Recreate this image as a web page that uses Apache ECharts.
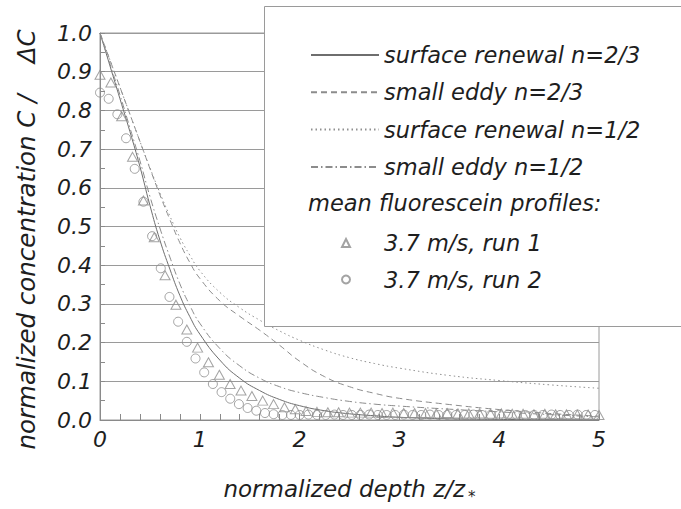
<!DOCTYPE html>
<html>
<head>
<meta charset="utf-8">
<script src="https://cdn.jsdelivr.net/npm/echarts@6/dist/echarts.min.js"></script>
<style>html,body{margin:0;padding:0;background:#fff}#c{width:681px;height:509px}</style>
</head>
<body>
<div id="c"></div>
<script>
// ---- data ----
const curveZ = [0, 0.1, 0.2, 0.3, 0.4, 0.5, 0.6, 0.7, 0.8, 0.9, 1.0, 1.2, 1.4, 1.6, 1.8, 2.0, 2.25, 2.5, 2.75, 3.0, 3.5, 4.0, 4.5, 5.0];
const surfaceRenewal23 = [1.0, 0.915, 0.83, 0.745, 0.655, 0.555, 0.465, 0.39, 0.322, 0.267, 0.222, 0.155, 0.108, 0.076, 0.053, 0.037, 0.024, 0.016, 0.011, 0.007, 0.003, 0.0015, 0.0007, 0.0003];
const smallEddy23 = [1.0, 0.93, 0.86, 0.79, 0.72, 0.65, 0.582, 0.518, 0.458, 0.407, 0.366, 0.308, 0.268, 0.232, 0.193, 0.152, 0.112, 0.086, 0.069, 0.056, 0.04, 0.027, 0.017, 0.01];
const surfaceRenewal12 = [1.0, 0.93, 0.86, 0.79, 0.72, 0.652, 0.587, 0.527, 0.472, 0.426, 0.386, 0.33, 0.29, 0.258, 0.23, 0.206, 0.181, 0.161, 0.146, 0.134, 0.115, 0.102, 0.091, 0.082];
const smallEddy12 = [1.0, 0.92, 0.84, 0.755, 0.67, 0.578, 0.496, 0.421, 0.352, 0.296, 0.25, 0.185, 0.14, 0.108, 0.086, 0.071, 0.058, 0.048, 0.041, 0.036, 0.028, 0.021, 0.014, 0.008];

const run1Z = [0, 0.109, 0.217, 0.326, 0.435, 0.543, 0.652, 0.761, 0.870, 0.978, 1.087, 1.196, 1.304, 1.413, 1.522, 1.630, 1.739, 1.848, 1.957, 2.065, 2.174, 2.283, 2.391, 2.5, 2.609, 2.717, 2.826, 2.935, 3.043, 3.152, 3.261, 3.370, 3.478, 3.587, 3.696, 3.804, 3.913, 4.022, 4.130, 4.239, 4.348, 4.457, 4.565, 4.674, 4.783, 4.891, 5.0];
const run1Y = [0.892, 0.872, 0.785, 0.68, 0.567, 0.472, 0.374, 0.298, 0.234, 0.187, 0.149, 0.117, 0.093, 0.076, 0.062, 0.05, 0.041, 0.033, 0.028, 0.023, 0.021, 0.02,
  0.02, 0.019, 0.019, 0.019, 0.018, 0.019, 0.018, 0.018, 0.018, 0.017, 0.018, 0.017, 0.017, 0.017, 0.016, 0.017, 0.016, 0.016, 0.015, 0.016, 0.015, 0.015, 0.014, 0.014, 0.013];

const run2Z = [0, 0.087, 0.174, 0.261, 0.348, 0.435, 0.522, 0.609, 0.696, 0.783, 0.87, 0.957, 1.044, 1.131, 1.218, 1.305, 1.392, 1.479, 1.566, 1.653, 1.74, 1.827, 1.914, 2.001, 2.088, 2.175, 2.262, 2.349, 2.436, 2.523, 2.61, 2.697, 2.784, 2.871, 2.958, 3.045, 3.132, 3.219, 3.306, 3.393, 3.48, 3.567, 3.654, 3.741, 3.828, 3.915, 4.002, 4.089, 4.176, 4.263, 4.35, 4.437, 4.524, 4.611, 4.698, 4.785, 4.872, 4.959];
const run2Y = [0.846, 0.83, 0.79, 0.728, 0.649, 0.564, 0.475, 0.392, 0.318, 0.254, 0.202, 0.159, 0.123, 0.093, 0.072, 0.055, 0.041, 0.031, 0.024, 0.018,
  0.015, 0.013, 0.013, 0.013, 0.014, 0.013, 0.013, 0.014, 0.013, 0.013, 0.013, 0.014, 0.013, 0.013, 0.013, 0.014, 0.013, 0.013, 0.014, 0.013,
  0.013, 0.013, 0.013, 0.014, 0.013, 0.013, 0.013, 0.014, 0.013, 0.013, 0.013, 0.013, 0.014, 0.013, 0.013, 0.014, 0.013, 0.013];

const yTicks = ['0.0','0.1','0.2','0.3','0.4','0.5','0.6','0.7','0.8','0.9','1.0'];
const xTicks = ['0','1','2','3','4','5'];
const lineNames = ['surface renewal n=2/3', 'small eddy n=2/3', 'surface renewal n=1/2', 'small eddy n=1/2'];
const markerNames = ['3.7 m/s, run 1', '3.7 m/s, run 2'];
const legendHeader = 'mean fluorescein profiles:';

// ---- chart ----
const FONT = 'DejaVu Sans';
const TXT = '#1e1e1e';
const pair = (xs, ys) => xs.map((x, i) => [x, ys[i]]);

const chart = echarts.init(document.getElementById('c'), null, {renderer: 'svg', width: 681, height: 509});

const lineSeries = (name, ys, color, type) => ({
  name, type: 'line', data: pair(curveZ, ys), showSymbol: false, symbol: 'none',
  smooth: 0.5, z: 2,
  lineStyle: {color, width: 1, type}, itemStyle: {color},
  emphasis: {disabled: true}, silent: true
});

chart.setOption({
  animation: false,
  backgroundColor: '#fff',
  grid: {left: 100, top: 33, right: 82, bottom: 86, show: true, borderColor: '#9a9a9a', borderWidth: 1, backgroundColor: 'transparent'},
  xAxis: {
    type: 'value', min: 0, max: 5, interval: 1,
    name: 'normalized depth z/z{s|*}', nameLocation: 'middle', nameGap: 53,
    nameTextStyle: {fontFamily: FONT, fontStyle: 'italic', fontSize: 23, color: TXT,
      rich: {s: {fontFamily: FONT, fontStyle: 'italic', fontSize: 15, color: TXT, padding: [16, 0, 0, 3]}}},
    axisLine: {show: true, lineStyle: {color: '#8a8a8a', width: 1}},
    axisTick: {show: true, inside: true, length: 6, lineStyle: {color: '#8a8a8a'}},
    minorTick: {show: true, splitNumber: 5, length: 6, lineStyle: {color: '#8a8a8a'}},
    splitLine: {show: false},
    axisLabel: {margin: 8, fontFamily: FONT, fontStyle: 'italic', fontSize: 22, color: TXT,
      formatter: v => xTicks[Math.round(v)]}
  },
  yAxis: {
    type: 'value', min: 0, max: 1, interval: 0.1,
    name: 'normalized concentration C /    ΔC', nameLocation: 'middle', nameGap: 61,
    nameTextStyle: {fontFamily: FONT, fontStyle: 'italic', fontSize: 24.5, color: TXT, padding: [0, 26, 0, 0]},
    axisLine: {show: true, lineStyle: {color: '#8a8a8a', width: 1}},
    axisTick: {show: true, inside: true, length: 5, lineStyle: {color: '#8a8a8a'}},
    minorTick: {show: true, splitNumber: 2, length: 5, lineStyle: {color: '#8a8a8a'}},
    splitLine: {show: true, lineStyle: {color: '#9a9a9a', width: 1}},
    axisLabel: {margin: 8, fontFamily: FONT, fontStyle: 'italic', fontSize: 22, color: TXT,
      formatter: v => yTicks[Math.round(v * 10)]}
  },
  legend: [
    {
      data: lineNames, orient: 'vertical', left: 305, top: 37, itemWidth: 68, itemHeight: 14, itemGap: 11.3,
      z: 6, selectedMode: false,
      itemStyle: {color: 'transparent', borderColor: 'transparent', borderWidth: 0, opacity: 0},
      textStyle: {fontFamily: FONT, fontStyle: 'italic', fontSize: 22.5, color: TXT, lineHeight: 26}
    },
    {
      data: markerNames, orient: 'vertical', left: 336, top: 225, itemWidth: 8, itemHeight: 8, itemGap: 10.5,
      z: 6, selectedMode: false,
      textStyle: {fontFamily: FONT, fontStyle: 'italic', fontSize: 22.5, color: TXT, lineHeight: 26, padding: [0, 0, 0, 29]}
    }
  ],
  graphic: [
    {type: 'rect', z: 5, left: 264, top: 6, shape: {width: 430, height: 320},
      style: {fill: '#fff', stroke: '#9a9a9a', lineWidth: 1}, silent: true},
    {type: 'text', z: 7, left: 308, top: 191,
      style: {text: legendHeader, font: 'italic 22.5px "DejaVu Sans"', fill: TXT}, silent: true}
  ],
  series: [
    lineSeries(lineNames[0], surfaceRenewal23, '#6e6e6e', 'solid'),
    lineSeries(lineNames[1], smallEddy23, '#8c8c8c', [6, 4]),
    lineSeries(lineNames[2], surfaceRenewal12, '#909090', [1.5, 3]),
    lineSeries(lineNames[3], smallEddy12, '#8c8c8c', [7, 3, 1.5, 3]),
    {name: markerNames[0], type: 'scatter', data: pair(run1Z, run1Y), symbol: 'triangle', symbolSize: [10, 9], z: 3,
      itemStyle: {color: 'transparent', borderColor: '#8c8c8c', borderWidth: 1}, silent: true, clip: false},
    {name: markerNames[1], type: 'scatter', data: pair(run2Z, run2Y), symbol: 'circle', symbolSize: 9, z: 3,
      itemStyle: {color: 'transparent', borderColor: '#8c8c8c', borderWidth: 1}, silent: true, clip: false}
  ]
});
</script>
</body>
</html>
